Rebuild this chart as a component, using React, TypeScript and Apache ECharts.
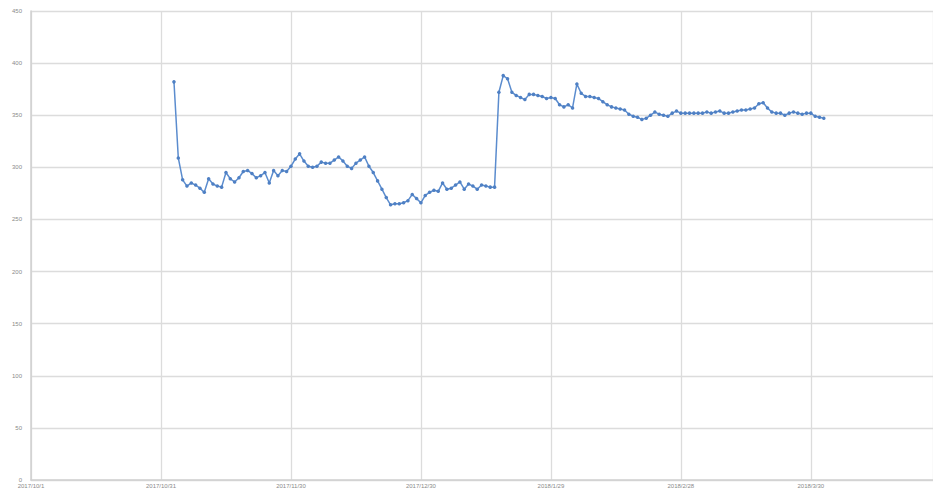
import React, { useEffect, useRef } from "react";
import * as echarts from "echarts";

const xTickLabels = ["2017/10/1", "2017/10/31", "2017/11/30", "2017/12/30", "2018/1/29", "2018/2/28", "2018/3/30"];
const yTickValues = [0, 50, 100, 150, 200, 250, 300, 350, 400, 450];
const firstDay = 33;
const values = [
  382, 309, 288, 282, 285, 283, 280, 276, 289, 284,
  282, 281, 295, 289, 286, 290, 296, 297, 294, 290,
  292, 295, 285, 297, 292, 297, 296, 301, 308, 313,
  306, 301, 300, 301, 305, 304, 304, 307, 310, 306,
  301, 299, 304, 307, 310, 301, 295, 287, 279, 271,
  264, 265, 265, 266, 268, 274, 270, 266, 273, 276,
  278, 277, 285, 279, 280, 283, 286, 279, 284, 282,
  279, 283, 282, 281, 281, 372, 388, 385, 372, 369,
  367, 365, 370, 370, 369, 368, 366, 367, 366, 360,
  358, 360, 357, 380, 371, 368, 368, 367, 366, 363,
  360, 358, 357, 356, 355, 351, 349, 348, 346, 347,
  350, 353, 351, 350, 349, 352, 354, 352, 352, 352,
  352, 352, 352, 353, 352, 353, 354, 352, 352, 353,
  354, 355, 355, 356, 357, 361, 362, 357, 353, 352,
  352, 350, 352, 353, 352, 351, 352, 352, 349, 348,
  347,
];

export default function App() {
  const ref = useRef<HTMLDivElement>(null);
  useEffect(() => {
    if (!ref.current) return;
    const chart = echarts.init(ref.current, undefined, { renderer: "svg" });
    const data = values.map((v, i) => [firstDay + i, v]);
    chart.setOption({
      animation: false,
      backgroundColor: "#ffffff",
      grid: { left: 31, right: 0, top: 11, bottom: 10, containLabel: false },
      xAxis: {
        type: "value",
        min: 0,
        max: 208.2,
        interval: 30,
        axisLine: { show: true, lineStyle: { color: "#d0d0d0", width: 1.5 } },
        axisTick: { show: false },
        splitLine: { show: true, lineStyle: { color: "#dcdcdc", width: 1.3 } },
        axisLabel: {
          showMaxLabel: false,
          fontSize: 6,
          color: "#8a8a8a",
          margin: 3,
          formatter: (v: number) => xTickLabels[Math.round(v / 30)] ?? "",
        },
      },
      yAxis: {
        type: "value",
        min: yTickValues[0],
        max: yTickValues[yTickValues.length - 1],
        interval: 50,
        axisLine: { show: true, lineStyle: { color: "#d0d0d0", width: 1.5 } },
        axisTick: { show: false },
        splitLine: { show: true, lineStyle: { color: "#dcdcdc", width: 1.3 } },
        axisLabel: { fontSize: 6, color: "#8a8a8a", margin: 9 },
      },
      series: [
        {
          type: "line",
          data,
          symbol: "circle",
          symbolSize: 3.5,
          showSymbol: true,
          lineStyle: { color: "#5b8cce", width: 1.5 },
          itemStyle: { color: "#4f80c4" },
        },
      ],
    });
    return () => chart.dispose();
  }, []);
  return (
    <div
      ref={ref}
      style={{ position: "fixed", left: 0, top: 0, width: 933, height: 490 }}
    />
  );
}
